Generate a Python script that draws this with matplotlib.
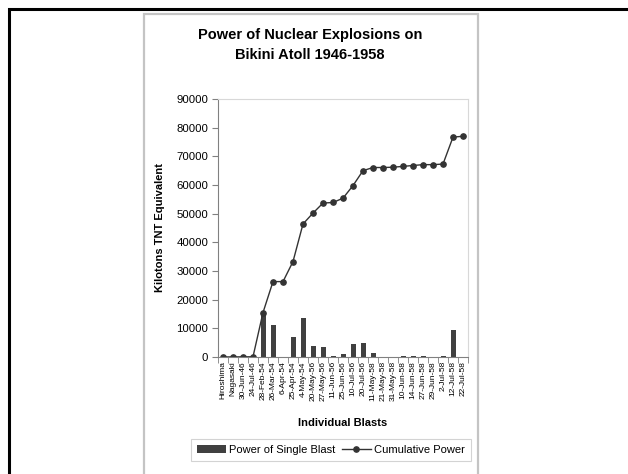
import numpy as np
import matplotlib
matplotlib.use('Agg')
import matplotlib.pyplot as plt
from matplotlib.patches import Rectangle

plt.rcParams['font.family'] = ['Liberation Sans', 'DejaVu Sans']

blasts = ['Hiroshima', 'Nagasaki', '30-Jun-46', '24-Jul-46', '28-Feb-54', '26-Mar-54',
          '6-Apr-54', '25-Apr-54', '4-May-54', '20-May-56', '27-May-56', '11-Jun-56',
          '25-Jun-56', '10-Jul-56', '20-Jul-56', '11-May-58', '21-May-58', '31-May-58',
          '10-Jun-58', '14-Jun-58', '27-Jun-58', '29-Jun-58', '2-Jul-58', '12-Jul-58',
          '22-Jul-58']
single = [15, 21, 23, 23, 15000, 11000, 110, 6900, 13500, 3800, 3500, 250,
          1100, 4500, 5000, 1360, 25, 92, 213, 319, 412, 14, 220, 9300, 65]
cumulative = [15, 36, 59, 82, 15500, 26300, 26300, 33300, 46400, 50200, 53700, 53900,
              55400, 59800, 65000, 66100, 66100, 66200, 66500, 66800, 67100, 67100,
              67300, 76700, 77000]

W, H = 628, 474
fig = plt.figure(figsize=(W / 100, H / 100), dpi=100)

# frames
fig.add_artist(Rectangle((9 / W, -0.1), 1.0, 1 - 9 / H + 0.1, transform=fig.transFigure,
                         fill=False, edgecolor='black', linewidth=2.2))
fig.add_artist(Rectangle((144 / W, -0.1), (478 - 144) / W, 1 - 14 / H + 0.1,
                         transform=fig.transFigure, fill=False, edgecolor='#c4c4c4',
                         linewidth=1.6))

ax = fig.add_axes([218 / W, (H - 357) / H, 250 / W, (357 - 99) / H])
x = np.arange(len(blasts))
bars = ax.bar(x, single, width=0.5, color='#404040', label='Power of Single Blast')
line, = ax.plot(x, cumulative, color='#333333', linewidth=1.0, marker='o', markersize=3.8,
                label='Cumulative Power')

ax.set_xlim(-0.5, len(blasts) - 0.5)
ax.set_ylim(0, 90000)
ax.set_yticks(np.arange(0, 90001, 10000))
ax.tick_params(axis='y', labelsize=8.2, length=4, color='#808080', pad=3)
ax.set_xticks(x)
ax.set_xticklabels(blasts, rotation=90, fontsize=6)
ax.tick_params(axis='x', length=0, pad=3)
ax.set_xticks(np.arange(-0.5, len(blasts)), minor=True)
ax.tick_params(axis='x', which='minor', length=4, color='#808080')

for s in ['left', 'bottom']:
    ax.spines[s].set_color('#808080')
    ax.spines[s].set_linewidth(0.8)
for s in ['top', 'right']:
    ax.spines[s].set_color('#d8d8d8')
    ax.spines[s].set_linewidth(0.8)

ax.set_ylabel('Kilotons TNT Equivalent', fontsize=8, fontweight='bold')
ax.yaxis.set_label_coords(-0.212, 0.5)
ax.set_xlabel('Individual Blasts', fontsize=8, fontweight='bold')
ax.xaxis.set_label_coords(0.5, -0.235)

fig.text(310 / W, 1 - 45 / H, 'Power of Nuclear Explosions on\nBikini Atoll 1946-1958',
         ha='center', va='center', fontsize=10.5, fontweight='bold', linespacing=1.5)

leg = fig.legend([bars, line], ['Power of Single Blast', 'Cumulative Power'],
                 loc='center', bbox_to_anchor=(331 / W, 1 - 450 / H), ncol=2,
                 fontsize=8, frameon=True, fancybox=False, edgecolor='#c8c8c8',
                 handlelength=2.6, handletextpad=0.3, columnspacing=0.6,
                 borderpad=0.5)
leg.get_frame().set_linewidth(0.8)

fig.savefig('out.png', dpi=100)
